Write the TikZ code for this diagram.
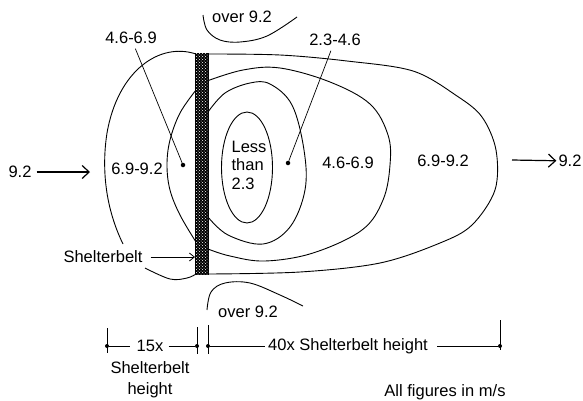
\documentclass[tikz,border=0pt]{standalone}
\usepackage{fontspec}
\setmainfont{Liberation Sans}
\usetikzlibrary{positioning, arrows.meta, patterns}

\begin{document}
\begin{tikzpicture}[
    x=1pt, y=-1pt,
    lbl/.style={font=\fontsize{16.5}{18.5}\selectfont, inner sep=0pt},
    contour/.style={line width=0.9pt, draw=black},
    beltstrip/.style={draw=black, fill=black, line width=0.8pt, postaction={pattern=crosshatch dots, pattern color=white}},
    leader/.style={line width=0.7pt, shorten <=5pt},
    pin/.style={circle, fill=black, inner sep=0pt, minimum size=4.5pt},
    wind/.style={-{Straight Barb[length=7pt, width=13pt, line width=1.2pt]}, line width=1.2pt},
    dim/.style={line width=0.8pt}
]
    \useasboundingbox (0,0) rectangle (583,400);

    % outer contour, windward side (broken by the label)
    \draw[contour] (196,54) .. controls (160,42) and (118,70) .. (107,133)
        .. controls (102,165) and (104,205) .. (123,244);
    \draw[contour] plot[smooth, tension=0.6] coordinates {(145,268) (170,279) (187,278) (196,274)};

    % outer contour, leeward side
    \draw[contour] plot[smooth, tension=0.55] coordinates {(208,54) (280,55) (347,61) (413,71) (457,96) (482,117) (496,150) (495,190) (472,225) (440,243) (380,263) (300,272) (208,274)};

    % second contour
    \draw[contour] plot[smooth, tension=0.6] coordinates {(196,90) (180,113) (170,140) (167,165) (170,190) (180,215) (196,242)};
    \draw[contour] plot[smooth, tension=0.6] coordinates {(207,81) (243,70) (280,68) (330,82) (370,104) (388,135) (390,165) (383,200) (362,230) (313,253) (265,261) (230,256) (208,249)};

    % third contour
    \draw[contour] plot[smooth, tension=0.6] coordinates {(208,112) (225,93) (250,83) (270,84) (292,105) (304,150) (305,190) (290,227) (263,244) (228,235) (208,217)};

    % calm core
    \draw[contour] (247,167.5) ellipse [x radius=25.5, y radius=55.5];

    % over 9.2 above and below
    \draw[contour] plot[smooth, tension=0.6] coordinates {(203,15) (207,30) (220,40) (240,42) (267,36) (297,17)};
    \draw[contour] plot[smooth, tension=0.6] coordinates {(207,310) (211,292) (225,283) (250,283) (280,295) (303,306)};

    % shelterbelt
    \draw[beltstrip] (195.5,53) rectangle (208,274);

    % labels
    \node[lbl] (overtop) at (242,17) {over 9.2};
    \node[lbl] (overbot) at (248,312) {over 9.2};
    \node[lbl] (lblA) at (131,38) {4.6-6.9};
    \node[lbl] (lblB) at (335,40) {2.3-4.6};
    \node[lbl] (zoneL) at (137,169) {6.9-9.2};
    \node[lbl, align=left] (core) at (249,165) {Less\\than\\2.3};
    \node[lbl] (zoneM) at (348,163) {4.6-6.9};
    \node[lbl] (zoneR) at (443,161) {6.9-9.2};

    \node[pin] (dotA) at (183,165) {};
    \node[pin] (dotB) at (288,163) {};
    \draw[leader] (lblA) -- (dotA);
    \draw[leader] (lblB) -- (dotB);

    % wind in and out
    \node[lbl] (windin) at (20,172) {9.2};
    \coordinate (windinend) at (90,172);
    \draw[wind, shorten <=5pt] (windin) -- (windinend);
    \node[lbl] (windout) at (570,161) {9.2};
    \coordinate (windoutstart) at (512,160);
    \draw[wind, shorten >=2pt] (windoutstart) -- (windout);

    \node[lbl] (beltlbl) at (103,257) {Shelterbelt};
    \coordinate (beltface) at (195,257);
    \draw[-{Straight Barb[length=5pt, width=8pt]}, line width=0.8pt, shorten <=8pt] (beltlbl) -- (beltface);

    % distances
    \node[pin, minimum size=4pt] (d1) at (107,346) {};
    \node[pin, minimum size=4pt] (d2) at (197,346) {};
    \node[pin, minimum size=4pt] (d3) at (208,346) {};
    \node[pin, minimum size=4pt] (d4) at (500,346) {};
    \draw[dim] (107,328) -- (107,353);
    \draw[dim] (197,327) -- (197,354);
    \draw[dim] (208,325) -- (208,354);
    \draw[dim] (500,320) -- (500,350);

    \node[lbl] (t15) at (150,346) {15x};
    \node[lbl] (t40) at (348,346) {40x Shelterbelt height};
    \draw[dim, shorten >=7pt] (d1) -- (t15);
    \draw[dim, shorten <=5pt] (t15) -- (d2);
    \draw[dim, shorten >=3pt] (d3) -- (t40);
    \draw[dim, shorten <=9pt] (t40) -- (d4);

    \node[lbl, align=center, font=\fontsize{16.5}{21}\selectfont] (hgt) [below=9pt of t15] {Shelterbelt\\height};
    \node[lbl] (units) at (445,392) {All figures in m/s};
\end{tikzpicture}
\end{document}
